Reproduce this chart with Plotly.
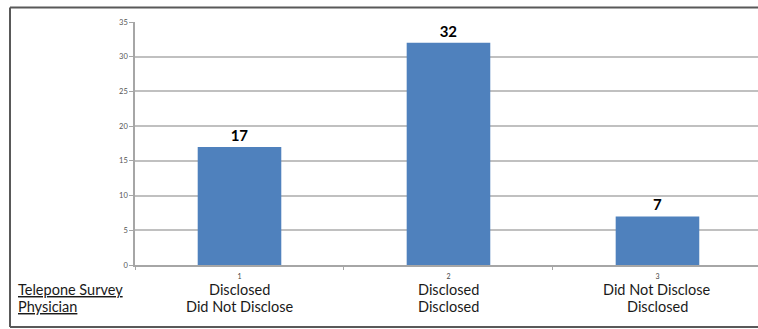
import plotly.graph_objects as go

categories = ["1", "2", "3"]
values = [17, 32, 7]
survey_labels = ["Disclosed", "Disclosed", "Did Not Disclose"]
physician_labels = ["Did Not Disclose", "Disclosed", "Disclosed"]
row_titles = ["Telepone Survey", "Physician"]
y_ticks = [0, 5, 10, 15, 20, 25, 30, 35]

W, H = 758, 329
L, R, T, B = 135, 0, 22, 64
pw = W - L - R
ph = H - T - B

def px_to_paper_x(px):
    return (px - L) / pw

def px_to_paper_y(py):
    return (H - B - py) / ph

FONT = "Lato, Carlito, Liberation Sans, sans-serif"

fig = go.Figure()
fig.add_trace(go.Bar(
    x=categories, y=values, width=0.4,
    marker=dict(color="#4f81bd", line=dict(width=0)),
    text=[str(v) for v in values], textposition="outside",
    textfont=dict(family=FONT, size=15, color="#000000", weight="bold"),
    cliponaxis=False,
))

annotations = []
for i, (s, p) in enumerate(zip(survey_labels, physician_labels)):
    annotations.append(dict(x=i, xref="x", y=px_to_paper_y(289), yref="paper",
                            text=s, showarrow=False, xanchor="center", yanchor="middle",
                            font=dict(family=FONT, size=14.5, color="#1a1a1a")))
    annotations.append(dict(x=i, xref="x", y=px_to_paper_y(307), yref="paper",
                            text=p, showarrow=False, xanchor="center", yanchor="middle",
                            font=dict(family=FONT, size=14.5, color="#1a1a1a")))
for i, t in enumerate(row_titles):
    annotations.append(dict(x=px_to_paper_x(16), xref="paper", y=px_to_paper_y(289 + 18 * i), yref="paper",
                            text="<u>" + t + "</u>", showarrow=False, xanchor="left", yanchor="middle",
                            font=dict(family=FONT, size=14.5, color="#1a1a1a")))

frame = dict(color="#595959", width=2)
x_left, x_right = px_to_paper_x(10), 1.0
y_top, y_bot = px_to_paper_y(7.5), px_to_paper_y(327)
shapes = [
    dict(type="line", xref="paper", yref="paper", x0=x_left, x1=x_right, y0=y_top, y1=y_top, line=frame),
    dict(type="line", xref="paper", yref="paper", x0=x_left, x1=x_right, y0=y_bot, y1=y_bot, line=frame),
    dict(type="line", xref="paper", yref="paper", x0=x_left, x1=x_left, y0=y_bot, y1=y_top, line=frame),
]

fig.update_layout(
    width=W, height=H,
    margin=dict(l=L, r=R, t=T, b=B, pad=0),
    paper_bgcolor="white", plot_bgcolor="white",
    showlegend=False,
    bargap=0.6,
    annotations=annotations,
    shapes=shapes,
    xaxis=dict(type="category", range=[-0.5, 2.481], showgrid=False,
               showline=True, linecolor="#a6a6a6", linewidth=1.5,
               ticks="outside", tickson="boundaries", ticklen=3, tickcolor="#a6a6a6",
               ticklabelstandoff=4,
               tickfont=dict(family=FONT, size=7, color="#444444"), fixedrange=True),
    yaxis=dict(range=[0, 35], tickvals=y_ticks, showgrid=True, gridcolor="#c0c0c0", gridwidth=1.5,
               showline=True, linecolor="#a6a6a6", linewidth=1.5, zeroline=False,
               ticks="outside", ticklen=4, tickcolor="#a6a6a6",
               tickfont=dict(family=FONT, size=7.5, color="#555555"), fixedrange=True),
)

fig.write_html("out.html")
